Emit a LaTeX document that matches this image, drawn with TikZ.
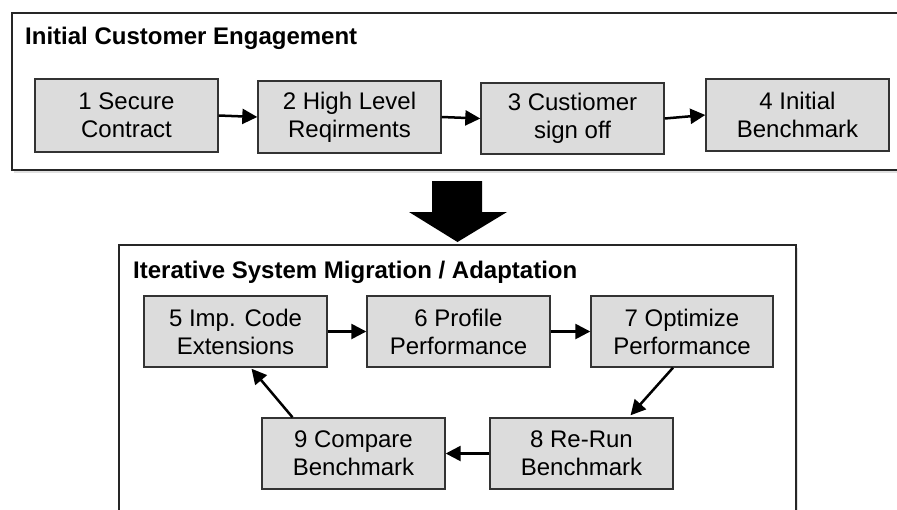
\documentclass[tikz,border=0pt]{standalone}
\usepackage{fontspec}
\setmainfont{Liberation Sans}
\usetikzlibrary{arrows.meta}
\definecolor{boxfill}{HTML}{DCDCDC}
\definecolor{boxline}{HTML}{333333}
\tikzset{
  stepbox/.style={draw=boxline, line width=1.4pt, fill=boxfill, minimum width=183pt, minimum height=72pt, inner sep=0pt, align=center, font=\fontsize{24}{28}\selectfont},
  panel/.style={draw=black!85, line width=1.4pt, fill=white},
  panelshadow/.style={fill=black!12},
  paneltitle/.style={anchor=base west, inner sep=0pt, font=\fontsize{24}{28}\selectfont\bfseries},
  flow/.style={line width=2.5pt, -{Triangle[length=15pt, width=15pt]}},
}
\begin{document}
\begin{tikzpicture}[x=1pt, y=-1pt]
\useasboundingbox (0,0) rectangle (897,509);
% panels
\fill[panelshadow] (14,16) rectangle (907,173);
\draw[panel] (12,13) rectangle (905,170);
\fill[panelshadow] (121,248) rectangle (798,520);
\draw[panel] (119,245) rectangle (796,520);
\node[paneltitle] (t1) at (25,44) {Initial Customer Engagement};
\node[paneltitle] (t2) at (133,278) {Iterative System Migration / Adaptation};
% big arrow
\fill[black] (432,181) -- (482,181) -- (482,212) -- (507,212) -- (457.5,242) -- (409,212) -- (432,212) -- cycle;
% top row
\node[stepbox, minimum height=73pt] (b1) at (126.5,115.5) {1 Secure\\Contract};
\node[stepbox] (b2) at (349.5,117) {2 High Level\\Reqirments};
\node[stepbox, minimum height=71pt] (b3) at (572.5,118.5) {3 Custiomer\\sign off};
\node[stepbox] (b4) at (797.5,115) {4 Initial\\Benchmark};
% lower loop
\node[stepbox, minimum height=71pt] (b5) at (235.5,331.5) {5 Imp. Code\\Extensions};
\node[stepbox, minimum height=71pt] (b6) at (458.5,331.5) {6 Profile\\Performance};
\node[stepbox, minimum height=71pt, minimum width=182pt] (b7) at (682,331.5) {7 Optimize\\Performance};
\node[stepbox, minimum height=71pt] (b8) at (581.5,453.5) {8 Re-Run\\Benchmark};
\node[stepbox, minimum height=71pt] (b9) at (353.5,453.5) {9 Compare\\Benchmark};
% connectors
\draw[flow] (b1.east) -- (b2.west);
\draw[flow] (b2.east) -- (b3.west);
\draw[flow] (b3.east) -- (b4.west);
\draw[flow] (b5.east) -- (b6.west);
\draw[flow] (b6.east) -- (b7.west);
\draw[flow] ([xshift=-9pt]b7.south) -- ([xshift=49pt,yshift=2pt]b8.north);
\draw[flow] (b8.west) -- (b9.east);
\draw[flow] ([xshift=-61pt]b9.north) -- ([xshift=16pt,yshift=-1pt]b5.south);
\end{tikzpicture}
\end{document}
